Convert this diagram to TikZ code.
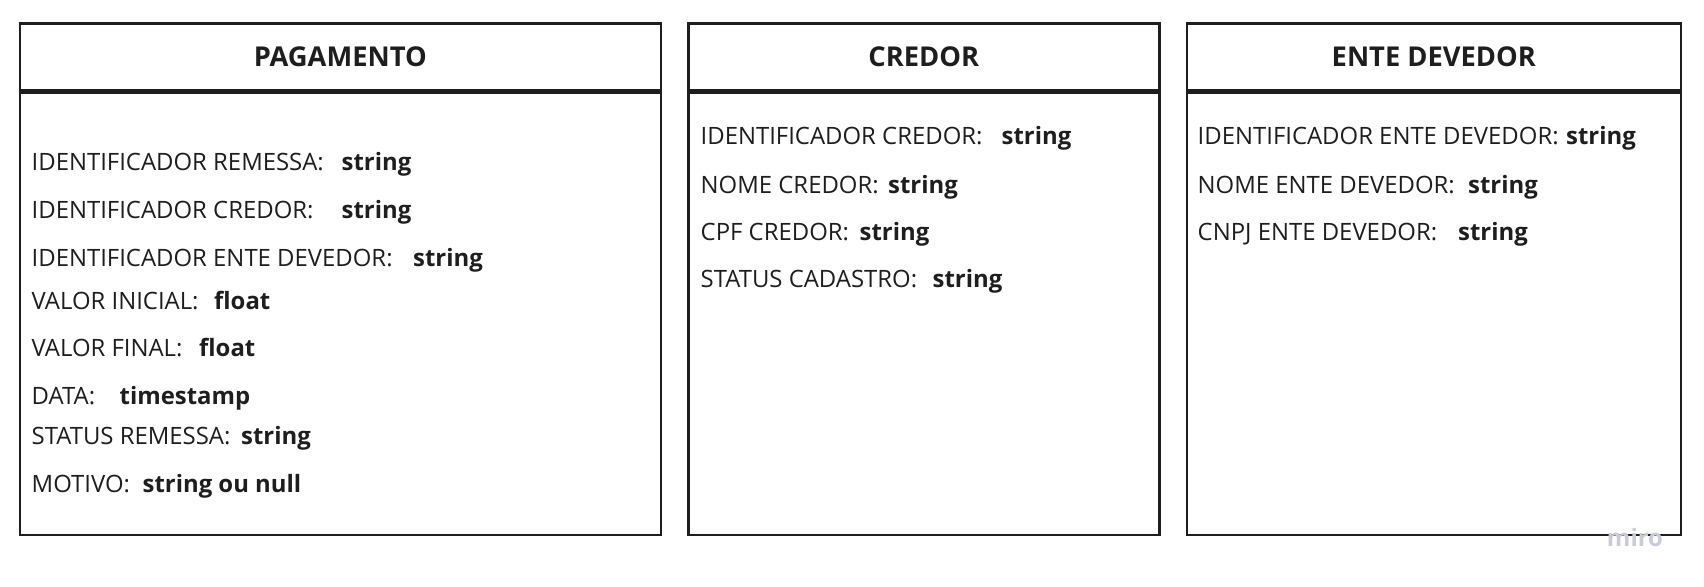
\documentclass[tikz,border=0pt]{standalone}
\usepackage{fontspec}
\setmainfont{Open Sans}
\usetikzlibrary{positioning}
\definecolor{ink}{HTML}{1E1E1E}
\definecolor{mirogray}{HTML}{CACAD8}

\begin{document}
\begin{tikzpicture}[x=1pt,y=-1pt,
	headbox/.style={draw=ink,line width=2.6pt,anchor=north west,inner sep=0pt,minimum height=67pt,text=ink,font=\fontsize{27.3}{30}\selectfont\bfseries},
	bodybox/.style={draw=ink,line width=2.6pt,anchor=north west,inner sep=0pt,minimum height=442pt},
	field/.style={anchor=base west,inner sep=0pt,text=ink,font=\fontsize{23.9}{28}\selectfont},
	ftype/.style={anchor=base west,inner sep=0pt,text=ink,font=\fontsize{23.9}{28}\selectfont\bfseries}]
	\useasboundingbox (0,0) rectangle (1704,586);

	\node[headbox,minimum width=641pt] (pag) at (18.5,22){PAGAMENTO};
	\node[bodybox,minimum width=641pt] (pagbody) at (pag.south west){};
	\node[headbox,minimum width=471pt] (cred) at (687,22){CREDOR};
	\node[bodybox,minimum width=471pt] (credbody) at (cred.south west){};
	\node[headbox,minimum width=494pt] (ente) at (1185.5,22){ENTE DEVEDOR};
	\node[bodybox,minimum width=494pt] (entebody) at (ente.south west){};

	\node[field] (pag1) at (31.5,170.5){IDENTIFICADOR REMESSA:};
	\node[ftype] (pag1t) at (341.5,170.5){string};
	\node[field] (pag2) at (31.5,218){IDENTIFICADOR CREDOR:};
	\node[ftype] (pag2t) at (341.5,218){string};
	\node[field] (pag3) at (31.5,266){IDENTIFICADOR ENTE DEVEDOR:};
	\node[ftype] (pag3t) at (413,266){string};
	\node[field] (pag4) at (31.5,309.5){VALOR INICIAL:};
	\node[ftype] (pag4t) at (214,309.5){float};
	\node[field] (pag5) at (31.5,356){VALOR FINAL:};
	\node[ftype] (pag5t) at (199,356){float};
	\node[field] (pag6) at (31.5,404){DATA:};
	\node[ftype] (pag6t) at (119.5,404){timestamp};
	\node[field] (pag7) at (31.5,444){STATUS REMESSA:};
	\node[ftype] (pag7t) at (241,444){string};
	\node[field] (pag8) at (31.5,492){MOTIVO:};
	\node[ftype] (pag8t) at (142.5,492){string ou null};

	\node[field] (cred1) at (700.5,144.5){IDENTIFICADOR CREDOR:};
	\node[ftype] (cred1t) at (1001.5,144.5){string};
	\node[field] (cred2) at (700.5,193){NOME CREDOR:};
	\node[ftype] (cred2t) at (888,193){string};
	\node[field] (cred3) at (700.5,240){CPF CREDOR:};
	\node[ftype] (cred3t) at (859.5,240){string};
	\node[field] (cred4) at (700.5,287.5){STATUS CADASTRO:};
	\node[ftype] (cred4t) at (932.5,287.5){string};

	\node[field] (ente1) at (1197.5,144.5){IDENTIFICADOR ENTE DEVEDOR:};
	\node[ftype] (ente1t) at (1566,144.5){string};
	\node[field] (ente2) at (1197.5,193){NOME ENTE DEVEDOR:};
	\node[ftype] (ente2t) at (1468,193){string};
	\node[field] (ente3) at (1197.5,240){CNPJ ENTE DEVEDOR:};
	\node[ftype] (ente3t) at (1458,240){string};

	\node[anchor=base,inner sep=0pt,text=mirogray,font=\fontsize{24}{28}\selectfont\bfseries] (miro) at (1635,546){miro};
\end{tikzpicture}
\end{document}
